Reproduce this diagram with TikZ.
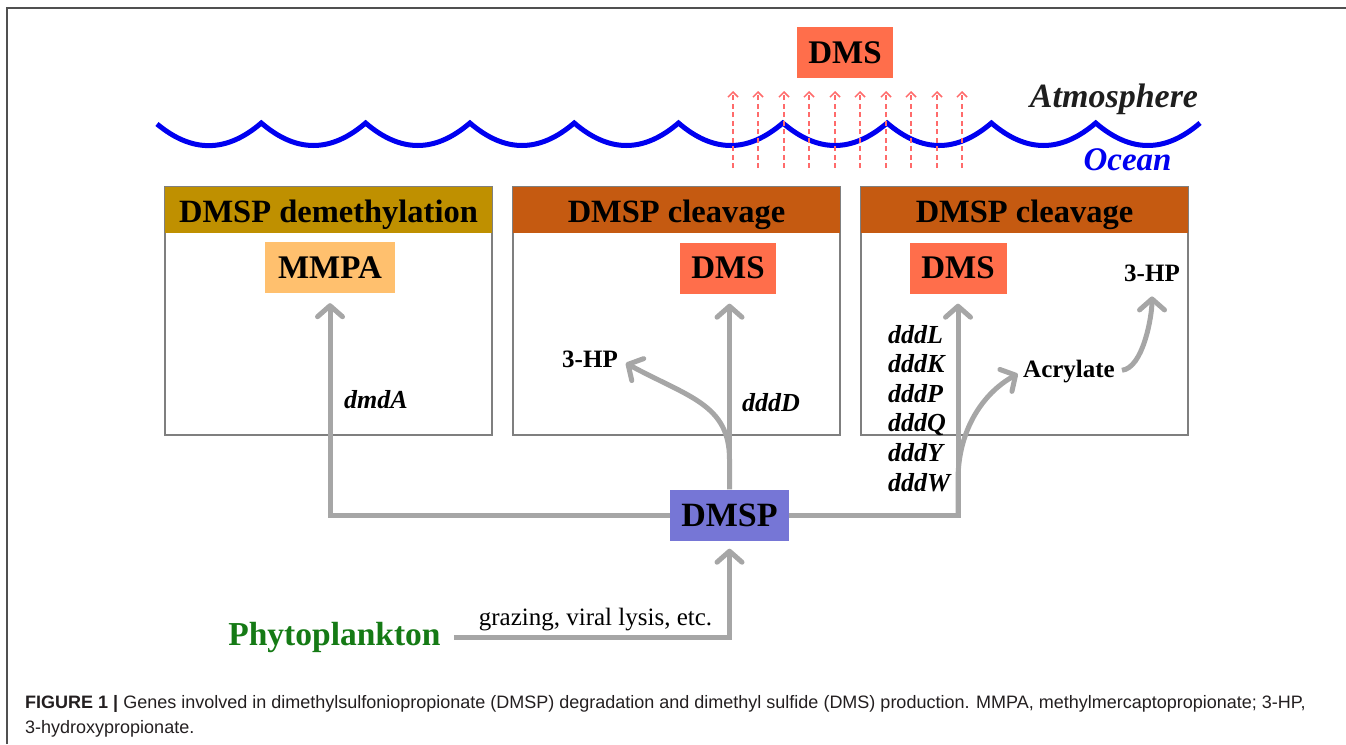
\documentclass[tikz,border=0pt]{standalone}
\usepackage{fontspec}
\setmainfont{Liberation Serif}
\newfontfamily\capfont{Liberation Sans}
\usetikzlibrary{arrows.meta}

\definecolor{hdrgold}{HTML}{BF9000}
\definecolor{hdrbrown}{HTML}{C55A11}
\definecolor{dmsred}{HTML}{FF6E4B}
\definecolor{mmpaorange}{HTML}{FFC06E}
\definecolor{dmspblue}{HTML}{7676D6}
\definecolor{flowgray}{HTML}{A6A6A6}
\definecolor{panelgray}{HTML}{7F7F7F}
\definecolor{ventred}{HTML}{FF6B6B}
\definecolor{phygreen}{HTML}{157A15}
\definecolor{seablue}{HTML}{0000F0}
\definecolor{atmgray}{HTML}{1E1E1E}
\definecolor{framegray}{HTML}{505050}
\definecolor{capblack}{HTML}{231F20}

\begin{document}
\begin{tikzpicture}[x=1pt,y=-1pt,
  panel/.style={draw=panelgray, line width=1.3pt, minimum width=327pt,
    minimum height=248pt, inner sep=0pt},
  header/.style={fill=#1, minimum width=327pt, minimum height=46pt, inner sep=0pt},
  chem/.style={fill=#1, minimum height=51pt, inner sep=0pt,
    font=\fontsize{33}{40}\selectfont\bfseries},
  txt/.style={anchor=base, inner sep=0pt},
  hdrtext/.style={txt, font=\fontsize{32.5}{39}\selectfont\bfseries},
  small/.style={txt, font=\fontsize{25}{30}\selectfont\bfseries},
  gene/.style={txt, font=\fontsize{26}{31}\selectfont\bfseries\itshape},
  flow/.style={draw=flowgray, line width=5pt,
    -{Straight Barb[length=11pt,width=25pt,round]}},
  vent/.style={draw=ventred, line width=1.5pt, dash pattern=on 5pt off 3.5pt,
    -{Straight Barb[length=5pt,width=10pt]}},
  captext/.style={anchor=base west, inner sep=0pt, text=capblack,
    font=\capfont\fontsize{18}{21}\selectfont},
]
\useasboundingbox (0,0) rectangle (1346,744);

% figure frame
\draw[framegray, line width=1.6pt] (7,744) -- (7,8) -- (1346,8);

% sea surface
\draw[seablue, line width=5pt]
  (157,124) foreach \i in {1,...,10} {
    .. controls ({157+104.3*(\i-1)+35},153) and ({157+104.3*\i-35},153)
    .. ({157+104.3*\i},123) };

\node[txt, font=\fontsize{34}{40}\selectfont\bfseries\itshape, text=atmgray]
  (atm) at (1114,107) {Atmosphere};
\node[txt, font=\fontsize{33}{40}\selectfont\bfseries\itshape, text=seablue]
  (ocean) at (1127.5,170) {Ocean};

% DMS released to the air
\node[chem=dmsred, minimum width=96pt] (dmsAir) at (845,52.5) {DMS};
\foreach \vx in {733,758,784,809,835,860,886,911,937,962}
  \draw[vent] (\vx,168) -- (\vx,91);

% three pathway panels
\node[panel] (pA) at (328.5,311) {};
\node[panel] (pB) at (676.5,311) {};
\node[panel] (pC) at (1024.5,311) {};
\node[header=hdrgold]  (hA) at (328.5,210) {};
\node[header=hdrbrown] (hB) at (676.5,210) {};
\node[header=hdrbrown] (hC) at (1024.5,210) {};
\node[hdrtext] (tA) at (328.5,222) {DMSP demethylation};
\node[hdrtext] (tB) at (676.5,222) {DMSP cleavage};
\node[hdrtext] (tC) at (1024.5,222) {DMSP cleavage};

% products
\node[chem=mmpaorange, minimum width=130pt] (mmpa) at (330,267.5) {MMPA};
\node[chem=dmsred, minimum width=96pt] (dmsB) at (728,268) {DMS};
\node[chem=dmsred, minimum width=97pt] (dmsC) at (958,268) {DMS};
\node[small] (hpB) at (590,367) {3-HP};
\node[small] (hpC) at (1152,281) {3-HP};
\node[small] (acr) at (1069,377) {Acrylate};

% genes
\node[gene] (dmdA) at (376,408) {dmdA};
\node[gene] (dddD) at (771,411) {dddD};
\foreach \g [count=\k] in {L,K,P,Q,Y,W}
  \node[gene, anchor=base west] (ddd\g) at (888,{343+29.6*(\k-1)}) {ddd\g};

% source
\node[chem=dmspblue, minimum width=119pt, font=\fontsize{34}{40}\selectfont\bfseries]
  (dmsp) at (729.5,515) {DMSP};
\node[txt, font=\fontsize{33.5}{40}\selectfont\bfseries, text=phygreen]
  (phy) at (334.5,645) {Phytoplankton};
\node[txt, font=\fontsize{25}{30}\selectfont] (graz) at (595.5,625)
  {grazing, viral lysis, etc.};

% pathways
\draw[flow, shorten >=8pt] ([xshift=13pt]phy.east) -| (dmsp.south);
\draw[flow, shorten >=10pt] (dmsp.west) -| (mmpa.south);
\draw[flow, shorten >=10pt] (dmsp.north) -- (dmsp.north |- dmsB.south);
\draw[flow, shorten >=9pt] (dmsp.north) -- ++(0,-30)
  .. controls +(0,-55) and +(70,38) .. (hpB.east);
\draw[flow, shorten >=10pt] (dmsp.east) -| (dmsC.south);
\draw[flow, shorten >=6pt] (dmsp.east -| dmsC.south) -- ++(0,-35)
  .. controls +(0,-50) and +(-40,22) .. (acr.west);
\draw[flow, shorten <=7pt, shorten >=15pt] (acr.east)
  .. controls +(28,-3) and +(0,35) .. (hpC.south);

% caption
\node[captext] (cap1) at (25,708)
  {\textbf{FIGURE 1 |} Genes involved in dimethylsulfoniopropionate (DMSP) degradation and dimethyl sulfide (DMS) production. MMPA, methylmercaptopropionate; 3-HP,};
\node[captext] (cap2) at (25,733) {3-hydroxypropionate.};
\end{tikzpicture}
\end{document}
